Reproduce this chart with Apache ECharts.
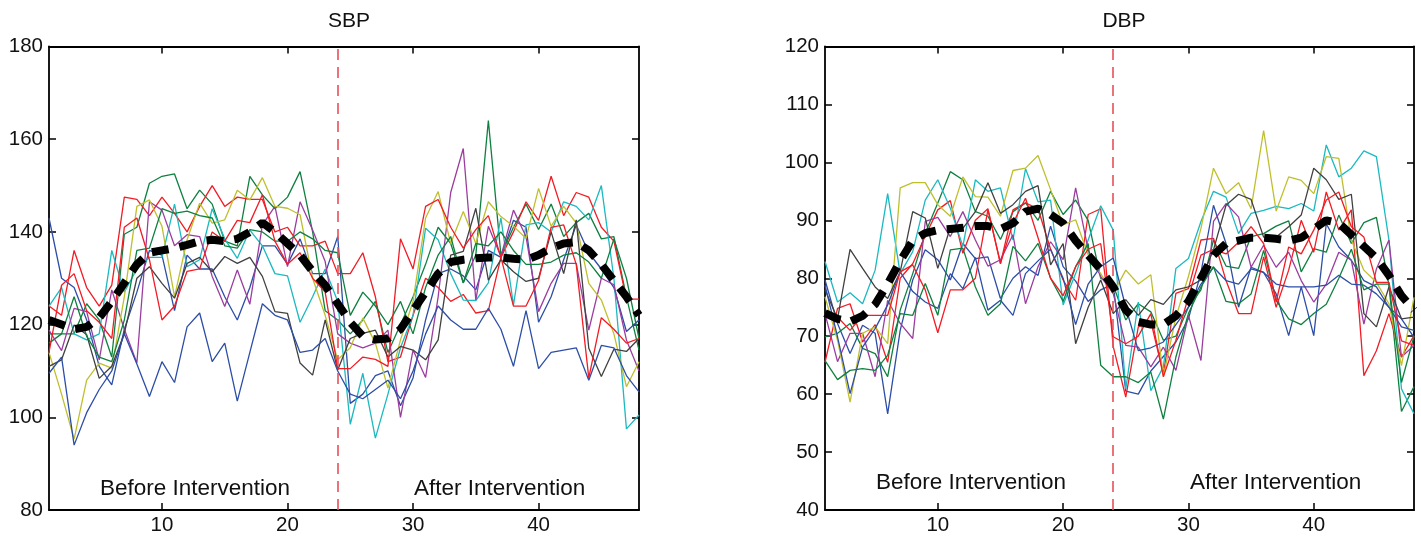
<!DOCTYPE html>
<html>
<head>
<meta charset="utf-8">
<script src="https://cdn.jsdelivr.net/npm/echarts@6/dist/echarts.min.js"></script>
<style>
  html, body { margin: 0; padding: 0; background: #fff; }
  #chart { width: 1421px; height: 542px; }
</style>
</head>
<body>
<div id="chart"></div>
<script>
// visit index 1..48
const visits = Array.from({ length: 48 }, (_, i) => i + 1);
const xTicks = [10, 20, 30, 40];
const interventionAt = 24;

// SBP subjects
const sbpBlueA = [143,130,128,121,111,107,119,127,136,135,123,135,132,132,126,121,128,137,137,133,138.5,131,131,139, 103,105,109,110,102.5,108.5,121,131,132,130.5,127.5,136,134.5,142.5,141,120.5,126,134,141.5,135.5,132,128,118.5,121];
const sbpGreenA = [116,118,118,124.5,121,113,139.5,141,150.5,152,152.5,145,149,146,138,137,152,148,145,147.5,153,140,123,121, 118,121,125,114,120,126,133,141,137.5,129,135,164,135,141,146,140.5,146,139,142,144,138.5,139,126,114.5];
const sbpRedA = [124,122,136,128,124,128.5,147.5,147,143.5,147.5,144,140,145.5,150,145.5,147.5,147,147,140,141,137,137,138,131, 131,135.5,126,112,113,122,130,128,125,126.5,122.5,123,134.5,140,146.5,142.5,152,143.5,148.5,147.5,141,138,125.5,125.5];
const sbpCyan = [124,128,118,116.7,118,136,127,132,134.5,134.5,146,132.5,134,145,138.5,134.3,140.4,137,131,130.5,120.5,126,132,125, 98.5,109.5,95.5,105,115,122,140.8,138.3,131,125.3,125.2,129,143,124.2,141.5,142,140,146.5,145.5,142.6,150,130,97.5,100.5];
const sbpMagenta = [118.8,114.4,123.5,122.8,112.4,127.5,119,111.7,146.5,144.7,137,139.4,139,130.4,123.9,131.8,124.4,141.5,145.5,132.5,146.5,140.4,133.6,118, 116,115,116,118.8,100,114.5,108.6,126,148.5,158,125.3,141.2,134.7,144.7,139,122.8,128.9,133.2,133.2,118.8,130,128.6,116.7,110];
const sbpYellow = [114,105,95.3,108,111.7,110.6,126,145.5,146.9,141.2,126,138.3,146.2,141.9,142.6,149,146.9,151.7,145.5,145.1,143.7,130,122,112.4, 115,121.4,116,106.3,116.7,125,143,148.7,137.5,144.4,137.5,146.5,143.3,141.2,138.6,149.4,141.2,145.5,141.9,128.9,125.3,118,106.6,112];
const sbpBlack = [111,112.4,119.9,117.8,108.4,111,118.1,130,132.5,128.9,125.7,133.2,134.5,131.4,134.7,133.2,134.5,130.4,122.8,122.4,111.7,109.1,121,110.2, 117,118.1,118.8,113,115.3,114.5,112.4,116.7,135,135.8,145.1,129.6,134,131.4,129.3,130,140,131,142.6,114.9,108.8,114.7,114.2,117];
const sbpBlueB = [109.5,113,94,101,106,110,118,111.5,104.5,112,107.5,119.5,122.5,112,116,103.5,114,124.5,122,121,114,114.5,117,110, 105,104,106,108,104,110,118,124,121,119,119,123.5,119,111,123,110.5,114,114.5,115,108,115.5,115,109,105.5];
const sbpGreenB = [118,118,126,117.5,113,112,121,136,136.5,145,144,144.5,143.5,143,137,136.5,140.5,140,138,138,140,138.5,136,135.5, 122,127,124,120,125,118,128,135,139,129,137.5,137,140,136,133,133,133.5,135,135.5,133.5,130,138.5,130,117];
const sbpRedB = [114,128.5,131,123,120.5,117,141,143,134,121,124,131.5,132,140,138,142.5,142,148,138,133,135.5,130,127,110.5, 110.5,113,112.5,111,138.5,132,145.5,147,141,136.5,140.5,143.5,134.5,124,124,129.5,141,141.5,133,108.5,121.5,119,116,117];
const sbpMean = [121,120,119,119.5,121.5,125,129,133,135.5,136,136.5,137.2,138,138.3,138,138.5,140,142,140,137.5,135,131.5,128.5,124.5, 120.5,117.5,116.8,117,119,123,127,131,133.5,134,134.3,134.5,134.5,134.2,134,135,136.5,137.5,137.8,136,133,129.5,126,122];

// DBP subjects
const dbpBlueA = [79.7,72.2,67,71.9,70.5,56.6,71,79.7,84.9,83.2,79.7,86,83.4,83.7,76.5,80,82,80.5,89,82,79.5,76,78,79, 60.5,60,64,66.5,69,73,81,92.6,86,75,81.9,81,77.3,70.1,78.5,70.1,89.4,85.4,83.1,79.6,78.5,75,73,69.8];
const dbpGreenA = [69.9,70.5,72.2,67.9,67,63,74.5,80.8,87.8,93,98.4,97,91.5,90.7,86.7,91.5,93,90,95,91,93.5,90,80,78.8, 72.8,75.6,74.2,69.3,70,75,78,86.6,82.1,81.7,87.2,87.7,89,89.9,81.1,85.1,84.5,90.9,86,89.6,90.5,78.8,57,61.3];
const dbpRedA = [65.5,74.8,75.6,69,72,65.5,80,82.5,87.3,91.8,93.4,84.3,90,92,82.5,91.8,93,92,85,79.7,76.2,91,92,68.2, 59.5,71.6,72.5,63.5,77.4,78.2,86.6,86.9,79.6,73.9,73.9,83.7,75,81.4,90,84.5,94.9,88.3,91.8,63.2,67.5,73.9,66.4,70.1];
const dbpCyan = [82.9,75.9,77.5,75.6,81.4,94.6,80.8,84.6,93.5,97,92.1,85.5,97,95,95.6,86.6,98.9,93.2,93.5,75.4,80.8,86.6,92.5,88.3, 60.9,75.9,60.6,64.7,81.7,83.4,89.8,95,94,87.7,91.2,91.7,92.4,92,92.9,91.6,103,97.5,99,102,101,86.6,60.9,56.6];
const dbpMagenta = [73.9,65.6,70.5,70.5,63,76.2,72.2,69.6,89.8,90.5,87.2,91.5,86.6,82.1,83.2,87.5,75.6,82,86.3,83.2,95.6,84.9,80.3,77.4, 68.4,68.1,64.7,68.1,64.1,73.6,65.8,89.8,92.9,90.6,81.9,85.7,81.9,84.5,79.6,75.9,79,84.5,83.1,72.1,81.6,86.6,66.4,68.4];
const dbpYellow = [76.8,69.3,58.6,70.5,71.6,68.7,95.6,96.5,96.5,92.7,90.7,97.5,94.1,94,90.7,98.6,99,101.2,95.3,89.2,90.1,84,80.8,77.4, 81.4,79,80.6,63,73.3,80.3,88.6,99,94.6,96.5,92,105.5,91.6,97.5,96.9,94.6,101,100.7,86.6,81.4,79.3,75.6,64.9,76.7];
const dbpBlack = [78,73,85,81.7,78.5,76.5,81.1,91.5,90.4,81.7,88.8,88.6,91.5,96.5,91.2,92.7,95,96,82.3,86,68.7,75,79.7,73.9, 76.3,73.6,76.3,75.5,78,78.5,79.7,84.9,92.6,94.5,93.6,87.1,87.1,88.9,90.9,99,97,93.6,94.5,73.9,71.6,78.5,73,73.3];
const dbpBlueB = [78.8,69.9,60.1,68.1,71.3,75.4,81.1,77.7,75.9,74.8,80.8,78.2,83.6,74.5,76.2,73.6,80.8,83,85,80,72,79,82,83.5, 75,67.5,68,69,72,75,79,81.9,79.6,79,81.6,81,79,78.5,78.5,78.5,78.8,80.5,79,78.8,77.3,75,71.6,71];
const dbpGreenB = [65.8,62.5,64.1,64.4,64.1,66.7,73.9,73.6,79.1,73.6,84.9,85.2,78.5,73.6,75.6,85.5,83,86,80,76,82,86,65,63, 63,62,63.8,55.7,66.4,73.9,78.5,82,76,75.6,77.3,84.8,76.2,73,72,73.9,75.5,80,85,78,79,79,62,70];
const dbpRedB = [73.9,73.3,71,73.6,73.6,73.6,81.1,82.3,78,70.6,78,78,80,91.8,82.6,89.5,93.8,87,80,77,82,85,86,69.9, 68.7,70,73.9,63,69.3,76.8,84,85,84.2,86.2,88.9,86,75.9,85.4,84.2,88.3,93.5,94.9,88.9,87.1,79.3,79.3,69.2,68.4];
const dbpMean = [74,73,72.5,73.5,75.5,79,83,86.5,87.8,88.3,88.5,88.7,89,89,88.5,89.5,91.5,92,91,89.5,86.5,84,81.5,78.5, 74.5,72.5,72,72,73.5,76,80,84,86,86.5,87,87,86.8,86.5,87,88.5,90,89.5,87.5,85.5,83.5,80.5,77,74.5];

// matlab-ish color order
const lineColors = ["#2d4ea6", "#0f8040", "#f21c24", "#1bb9c0", "#9b3d9f", "#bfbf2e", "#404040", "#2d4ea6", "#0f8040", "#f21c24"];

const sbpSubjects = [sbpBlueA, sbpGreenA, sbpRedA, sbpCyan, sbpMagenta, sbpYellow, sbpBlack, sbpBlueB, sbpGreenB, sbpRedB];
const dbpSubjects = [dbpBlueA, dbpGreenA, dbpRedA, dbpCyan, dbpMagenta, dbpYellow, dbpBlack, dbpBlueB, dbpGreenB, dbpRedB];

const font = "Liberation Sans, Arial, Helvetica, sans-serif";
const chart = echarts.init(document.getElementById("chart"));

const grids = [
  { left: 49, right: 782, top: 46.5, bottom: 32 },
  { left: 825, right: 7, top: 46.5, bottom: 32 },
];

const xAxes = [];
const yAxes = [];
[0, 1].forEach((g) => {
  const tickStyle = { show: true, inside: true, length: 7, customValues: xTicks, lineStyle: { color: "#000", width: 1.5 } };
  xAxes.push({
    type: "value", gridIndex: g, min: 1, max: 48, position: "bottom",
    axisLine: { lineStyle: { color: "#000", width: 1.8 } },
    axisTick: tickStyle,
    axisLabel: { customValues: xTicks, color: "#111", fontSize: 20.5, fontFamily: font, margin: 5 },
    splitLine: { show: false },
  });
  xAxes.push({
    type: "value", gridIndex: g, min: 1, max: 48, position: "top",
    axisLine: { lineStyle: { color: "#000", width: 1.8 } },
    axisTick: tickStyle,
    axisLabel: { show: false },
    splitLine: { show: false },
  });
});
const yRanges = [
  { min: 80, max: 180, interval: 20 },
  { min: 40, max: 120, interval: 10 },
];
[0, 1].forEach((g) => {
  ["left", "right"].forEach((pos) => {
    yAxes.push({
      type: "value", gridIndex: g, position: pos,
      min: yRanges[g].min, max: yRanges[g].max, interval: yRanges[g].interval,
      axisLine: { show: true, lineStyle: { color: "#000", width: 1.8 } },
      axisTick: { show: true, inside: true, length: 7, lineStyle: { color: "#000", width: 1.5 } },
      axisLabel: pos === "left"
        ? { color: "#111", fontSize: 20.5, fontFamily: font, margin: 6 }
        : { show: false },
      splitLine: { show: false },
    });
  });
});

const series = [];
const panels = [
  { subjects: sbpSubjects, mean: sbpMean },
  { subjects: dbpSubjects, mean: dbpMean },
];
panels.forEach((p, g) => {
  p.subjects.forEach((vals, i) => {
    series.push({
      type: "line", xAxisIndex: g * 2, yAxisIndex: g * 2,
      data: visits.map((v, k) => [v, vals[k]]),
      symbol: "none", silent: true,
      lineStyle: { color: lineColors[i], width: 1.3 },
      z: 2,
      markLine: i === 0 ? {
        silent: true, symbol: "none", label: { show: false },
        lineStyle: { color: "#e8505a", width: 1.6, type: [11, 7] },
        data: [{ xAxis: interventionAt }],
      } : undefined,
    });
  });
  series.push({
    type: "line", xAxisIndex: g * 2, yAxisIndex: g * 2,
    data: visits.map((v, k) => [v, p.mean[k]]),
    symbol: "none", silent: true,
    lineStyle: { color: "#000", width: 8, type: [17, 11], cap: "butt" },
    z: 5,
  });
});

const textStyle = { fill: "#111", fontSize: 22.5, fontFamily: font };
const titleStyle = { fontSize: 21, fontWeight: "normal", color: "#111", fontFamily: font };
chart.setOption({
  animation: false,
  title: [
    { text: "SBP", left: 344, top: 6, textAlign: "center", textStyle: titleStyle },
    { text: "DBP", left: 1119, top: 6, textAlign: "center", textStyle: titleStyle },
  ],
  grid: grids,
  xAxis: xAxes,
  yAxis: yAxes,
  series: series,
  graphic: [
    { type: "text", left: 100, top: 477, style: Object.assign({ text: "Before Intervention" }, textStyle) },
    { type: "text", left: 414, top: 477, style: Object.assign({ text: "After Intervention" }, textStyle) },
    { type: "text", left: 876, top: 471, style: Object.assign({ text: "Before Intervention" }, textStyle) },
    { type: "text", left: 1190, top: 471, style: Object.assign({ text: "After Intervention" }, textStyle) },
  ],
});
</script>
</body>
</html>
